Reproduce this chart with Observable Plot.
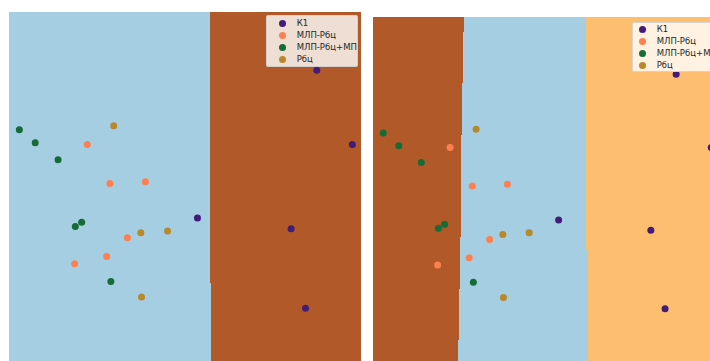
<!DOCTYPE html>
<html>
<head>
<meta charset="utf-8">
<script src="https://cdn.jsdelivr.net/npm/d3@7"></script>
<script src="https://cdn.jsdelivr.net/npm/@observablehq/plot@0.6"></script>
<style>
  html, body { margin: 0; padding: 0; background: #fff; }
  #wrap { position: relative; width: 710px; height: 361px; overflow: hidden; }
  #wrap svg { position: absolute; }
  .legend { position: absolute; background: rgba(255,255,255,0.8); border: 1px solid rgba(204,204,204,0.8);
            border-radius: 2px; box-sizing: border-box; font-family: "DejaVu Sans", sans-serif; font-size: 8.5px; color: #262626; }
  .legend .dot { position: absolute; width: 7px; height: 7px; border-radius: 50%; }
  .legend .lab { position: absolute; white-space: nowrap; line-height: 10px; }
</style>
</head>
<body>
<div id="wrap"></div>
<script>
// ---- data (abstract 2-D embedding units, 0..10) ----
const seriesNames  = ["К1", "МЛП-Рбц", "МЛП-Рбц+МП", "Рбц"];
const seriesColors = ["#431c77", "#fc8050", "#176b35", "#b8882a"];

const k1X   = [8.73, 9.74, 5.34, 8.00, 8.41];
const k1Y   = [8.36, 6.25, 4.16, 3.86, 1.60];
const mlpX  = [2.21, 2.85, 3.86, 3.35, 2.76, 1.85];
const mlpY  = [6.25, 5.14, 5.19, 3.60, 3.07, 2.86];
const mlpmX = [0.28, 0.73, 1.38, 2.05, 1.87, 2.88];
const mlpmY = [6.67, 6.30, 5.82, 4.04, 3.92, 2.36];
const rbcX  = [2.96, 3.73, 4.49, 3.75];
const rbcY  = [6.78, 3.74, 3.79, 1.92];

// decision-region classes and colours (Paired colormap)
const regionNames  = ["zoneA", "zoneB", "zoneC"];
const regionColors = ["#a6cee3", "#b15928", "#fdbf6f"];

// left panel: zoneA | zoneB boundary (x) per horizontal band [yTop, yBottom]
const leftBandTop    = [10, 2.30];
const leftBandBottom = [2.30, 0];
const leftBoundaryX  = [5.70, 5.73];

// right panel: zoneB | zoneA boundary
const rightB1Top    = [10, 9.56, 8.09, 6.61, 5.14, 3.66, 2.16, 0.69];
const rightB1Bottom = [9.56, 8.09, 6.61, 5.14, 3.66, 2.16, 0.69, 0];
const rightB1X      = [2.63, 2.61, 2.58, 2.55, 2.53, 2.50, 2.48, 2.46];
// right panel: zoneA | zoneC boundary
const rightB2Top    = [10, 7.18, 3.29];
const rightB2Bottom = [7.18, 3.29, 0];
const rightB2X      = [6.13, 6.15, 6.19];

// ---- build tables ----
const seriesXY = [[k1X, k1Y], [mlpX, mlpY], [mlpmX, mlpmY], [rbcX, rbcY]];
const points = [];
seriesXY.forEach(([xs, ys], i) => xs.forEach((x, j) => points.push({x, y: ys[j], s: seriesNames[i]})));

const leftRegions = [];
leftBandTop.forEach((t, i) => {
  leftRegions.push({x1: 0, x2: leftBoundaryX[i], y1: leftBandBottom[i], y2: t, r: "zoneA"});
  leftRegions.push({x1: leftBoundaryX[i], x2: 10, y1: leftBandBottom[i], y2: t, r: "zoneB"});
});
const rightRegions = [];
rightB1Top.forEach((t, i) => rightRegions.push({x1: 0, x2: rightB1X[i], y1: rightB1Bottom[i], y2: t, r: "zoneB"}));
const cuts = Array.from(new Set([...rightB1Top, ...rightB1Bottom, ...rightB2Top, ...rightB2Bottom])).sort((a, b) => b - a);
for (let i = 0; i < cuts.length - 1; i++) {
  const top = cuts[i], bot = cuts[i + 1], mid = (top + bot) / 2;
  const i1 = rightB1Top.findIndex((tt, k) => mid <= tt && mid >= rightB1Bottom[k]);
  const i2 = rightB2Top.findIndex((tt, k) => mid <= tt && mid >= rightB2Bottom[k]);
  rightRegions.push({x1: rightB1X[i1], x2: rightB2X[i2], y1: bot, y2: top, r: "zoneA"});
}
rightB2Top.forEach((t, i) => rightRegions.push({x1: rightB2X[i], x2: 10, y1: rightB2Bottom[i], y2: t, r: "zoneC"}));

function panel(regions, size) {
  return Plot.plot({
    width: size, height: size, margin: 0,
    x: {domain: [0, 10], axis: null},
    y: {domain: [0, 10], axis: null},
    color: {type: "ordinal", domain: [...regionNames, ...seriesNames], range: [...regionColors, ...seriesColors]},
    style: {background: "transparent", overflow: "visible"},
    marks: [
      Plot.rect(regions, {x1: "x1", x2: "x2", y1: "y1", y2: "y2", fill: "r", shapeRendering: "crispEdges"}),
      Plot.dot(points, {x: "x", y: "y", fill: "s", r: 3.5, stroke: "none"})
    ]
  });
}

function legend(left, top, width, height, dx, tx, rows) {
  const el = document.createElement("div");
  el.className = "legend";
  Object.assign(el.style, {left: left + "px", top: top + "px", width: width + "px", height: height + "px"});
  seriesNames.forEach((name, i) => {
    const d = document.createElement("div");
    d.className = "dot";
    Object.assign(d.style, {left: (dx - 3.5) + "px", top: (rows[i] - 3.5) + "px", background: seriesColors[i]});
    const t = document.createElement("div");
    t.className = "lab";
    t.textContent = name;
    Object.assign(t.style, {left: tx + "px", top: (rows[i] - 5.5) + "px"});
    el.append(d, t);
  });
  return el;
}

const wrap = document.getElementById("wrap");
const p1 = panel(leftRegions, 352);
p1.style.left = "9px"; p1.style.top = "12px";
const p2 = panel(rightRegions, 346.7);
p2.style.left = "372.7px"; p2.style.top = "17.3px";
wrap.append(p1, p2);
wrap.append(legend(265.7, 15.3, 92, 52, 16, 30, [7, 19, 31, 43]));
wrap.append(legend(631.7, 22, 90, 50, 10, 24, [6.5, 18.5, 30, 42]));
</script>
</body>
</html>
